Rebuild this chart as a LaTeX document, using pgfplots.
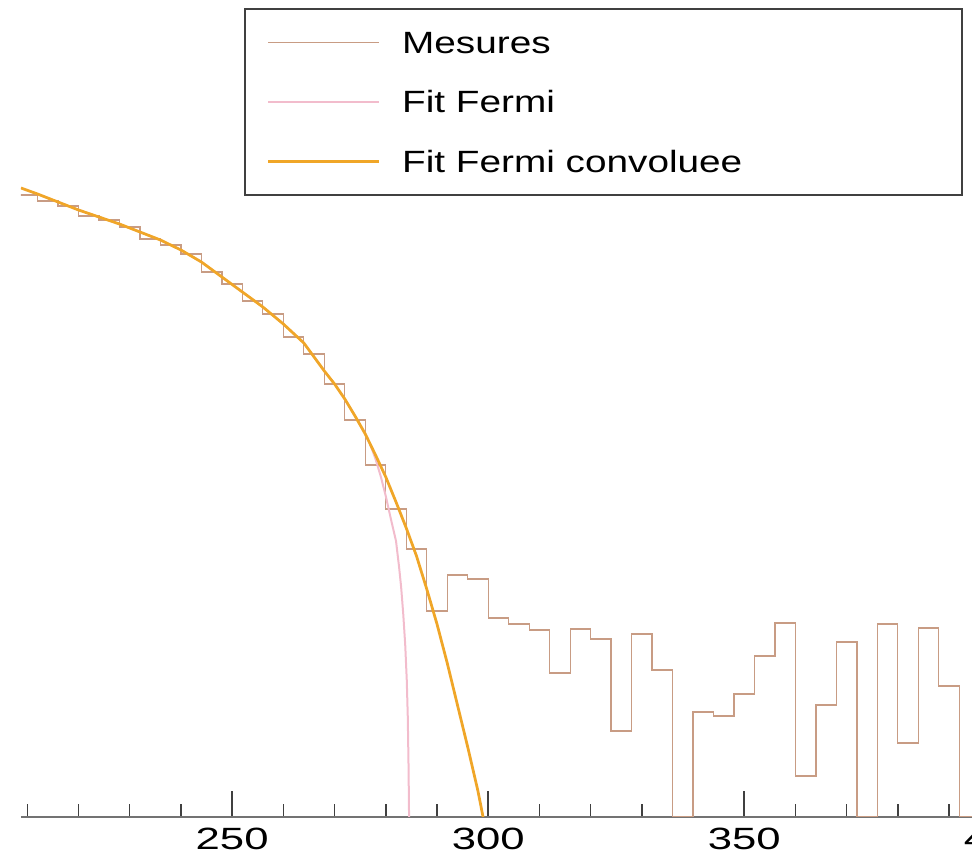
\documentclass[border=0pt]{standalone}
\usepackage{pgfplots}
\pgfplotsset{compat=1.18}
\usepackage{fontspec}
\setmainfont{Liberation Sans}
\newfontfamily\legfont{Liberation Sans}[FakeStretch=1.26]
\newfontfamily\tickfont{Liberation Sans}[FakeStretch=1.42]
\definecolor{mesures}{RGB}{200,156,132}
\definecolor{fermi}{RGB}{242,188,204}
\definecolor{conv}{RGB}{240,166,40}
\begin{document}
\begin{tikzpicture}
\begin{axis}[
  x=2.0484pt, y=0.4pt,
  xmin=208.77, xmax=410, ymin=0, ymax=817,
  axis x line*=bottom, axis y line=none,
  x axis line style={draw=black!55, line width=0.5pt},
  xtick={250,300,350,400}, ytick=\empty,
  minor xtick={210,220,230,240,260,270,280,290,310,320,330,340,360,370,380,390,410},
  tick align=inside,
  major tick length=10.3pt, minor tick length=5.3pt,
  tick style={black!75, line width=0.6pt},
  /pgf/number format/assume math mode=true,
  xticklabel style={font=\tickfont\fontsize{12.3}{14}\selectfont, inner sep=0pt, anchor=north, yshift=-4.4pt},
  legend cell align=left,
  legend style={at={(axis cs:252.32,809)}, anchor=north west, draw=black!75, line width=0.7pt,
    inner xsep=8.8pt, inner ysep=1.5pt, row sep=0pt,
    nodes={inner sep=0pt, text height=16.3pt, text depth=7.5pt, font=\legfont\fontsize{12.3}{14}\selectfont}},
  legend image code/.code={\draw[#1] (0pt,0pt) -- (44.4pt,0pt); \path (53pt,0pt);},
]
\addplot[const plot, color=mesures, line width=0.5pt] coordinates {
(208,622) (212,616) (216,611) (220,601) (224,597) (228,590) (232,578) (236,572)
(240,563) (244,545) (248,533) (252,516) (256,503) (260,480) (264,463) (268,433)
(272,397) (276,352) (280,308) (284,268) (288,206) (292,242) (296,238) (300,199)
(304,193) (308,187) (312,144) (316,188) (320,178) (324,86) (328,183) (332,147)
(336,0) (340,105) (344,101) (348,123) (352,161) (356,194) (360,41) (364,112)
(368,175) (372,0) (376,193) (380,74) (384,189) (388,131) (392,0) (396,0)
};
\addlegendentry{\makebox[215pt][l]{Mesures}}
\addplot[color=fermi, line width=0.8pt] coordinates {
(208.77,629) (212,623) (216,615) (220,607) (224,600) (228,593) (232,585) (236,577)
(240,567) (244,555) (248,540) (252,525) (256,510) (260,493) (264,474) (266,460)
(268,446) (270,433) (272,418) (274,401) (276,383) (277,372) (278,358) (279,341)
(280,321) (281,298) (282,276) (282.6,250) (283,230) (283.4,204) (283.8,172)
(284.1,137) (284.3,100) (284.45,50) (284.55,0)
};
\addlegendentry{\makebox[215pt][l]{Fit Fermi}}
\addplot[color=conv, line width=1.1pt] coordinates {
(208.77,629) (212,623) (216,615) (220,607) (224,600) (228,593) (232,585) (236,577)
(240,567) (244,555) (248,540) (252,525) (256,510) (260,493) (264,474) (266,460)
(268,446) (270,433) (272,418) (274,401) (276,383) (278,362) (280,340) (282,315)
(284,289) (286,261) (288,228) (290,193) (292,154) (294,112) (296,70) (298,26) (299,0)
};
\addlegendentry{\makebox[215pt][l]{Fit Fermi convoluee}}
\coordinate (bl) at (axis cs:204.67,-38);
\coordinate (tr) at (axis cs:394.48,817);
\end{axis}
\pgfresetboundingbox
\useasboundingbox (bl) rectangle (tr);
\end{tikzpicture}
\end{document}
